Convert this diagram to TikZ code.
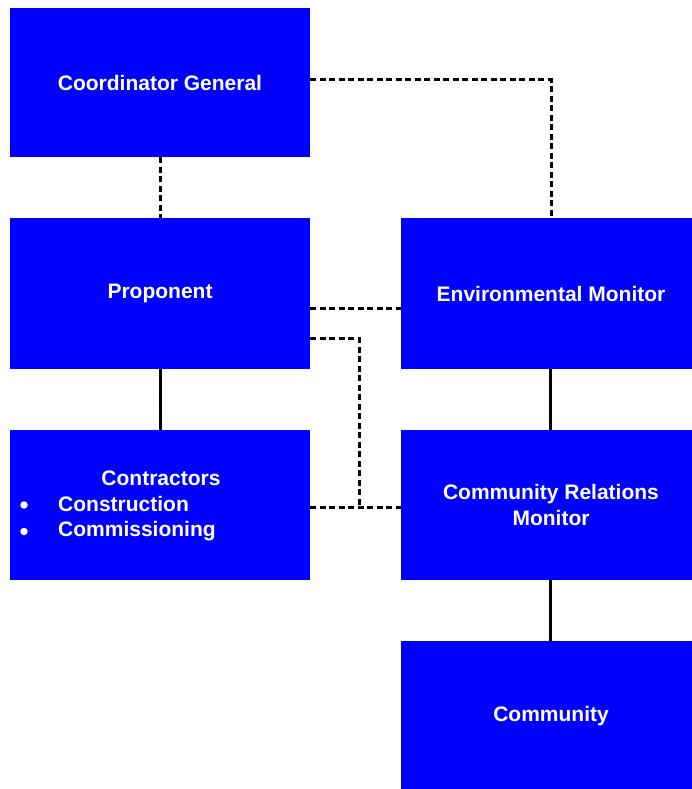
\documentclass[tikz,border=0pt]{standalone}
\usepackage{fontspec}
\setmainfont{Liberation Sans}
\begin{document}
\begin{tikzpicture}[x=1pt,y=-1pt,
  box/.style={fill=blue, draw=none, inner sep=0pt, minimum width=300pt, minimum height=150pt,
    text=white, font=\fontsize{21}{26}\selectfont\bfseries, align=center},
  txt/.style={text=white, font=\fontsize{21}{26}\selectfont\bfseries, inner sep=0pt},
  bul/.style={circle, fill=white, draw=none, inner sep=0pt, minimum size=7.5pt},
  dotline/.style={draw=black, line width=3pt, dash pattern=on 6pt off 3.5pt},
  solidline/.style={draw=black, line width=3pt}]
\useasboundingbox (0,0) rectangle (692,789);
\node[box, minimum height=149pt] (cg) at (160,82.5) {Coordinator General};
\node[box, minimum height=151pt] (prop) at (160,293.5) {Proponent};
\node[box] (contr) at (160,505) {};
\node[box, minimum height=151pt] (em) at (551,293.5) {Environmental Monitor};
\node[box] (crm) at (551,505) {Community Relations\\Monitor};
\node[box] (comm) at (551,716) {Community};
\node[txt] (ctitle) at (161,478) {Contractors};
\node[txt, anchor=west] (i1) at (58,504) {Construction};
\node[txt, anchor=west] (i2) at (58,531) {Commissioning};
\node[bul] (b1) at (24,505) {};
\node[bul] (b2) at (24,531.5) {};
% connectors
\coordinate (j) at (359,507);
\coordinate (pe1) at ([yshift=-15pt]prop.east);
\draw[dotline] (cg) -- (prop);
\draw[dotline] ([yshift=2.5pt]cg.east) -| (em.north);
\draw[dotline] (pe1) -- (em.west |- pe1);
\draw[dotline] ([yshift=-45pt]prop.east) -| (j);
\draw[dotline] (contr.east |- j) -- (crm.west |- j);
\draw[solidline] (prop) -- (contr);
\draw[solidline] ([xshift=-1pt]em.south) -- ([xshift=-1pt]crm.north);
\draw[solidline] ([xshift=-1pt]crm.south) -- ([xshift=-1pt]comm.north);
\end{tikzpicture}
\end{document}
